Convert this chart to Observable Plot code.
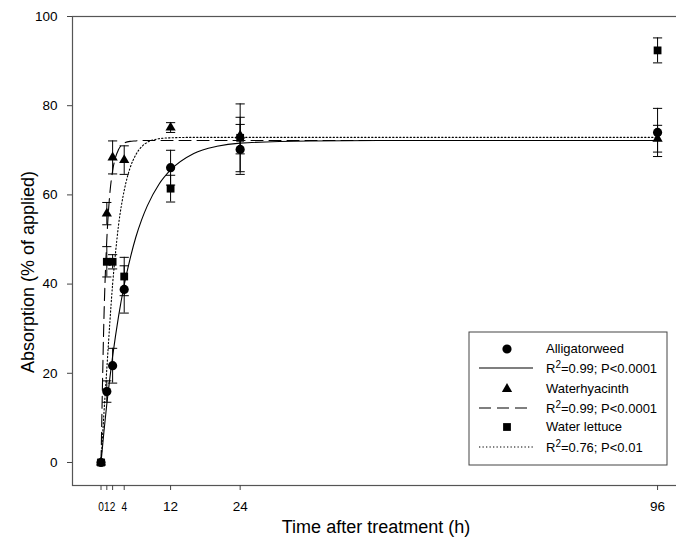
<!DOCTYPE html>
<html><head><meta charset="utf-8">
<script src="https://cdn.jsdelivr.net/npm/d3@7"></script>
<script src="https://cdn.jsdelivr.net/npm/@observablehq/plot@0.6"></script>
<style>
body{margin:0;background:#fff;}
#chart{position:relative;width:676px;height:539px;overflow:hidden;background:#fff;}
</style>
</head><body><div id="chart"></div>
<script>
// ---- data ----
const times = [0, 1, 2, 4, 12, 24, 96];
const xTicks = [0, 1, 2, 4, 12, 24, 96];
const yTicks = [0, 20, 40, 60, 80, 100];
const seriesNames = ["Alligatorweed", "Waterhyacinth", "Water lettuce"];
const fitLabels = ["=0.99; P<0.0001", "=0.99; P<0.0001", "=0.76; P<0.01"];

const alligatorMean = [0, 15.9, 21.7, 38.8, 66.1, 70.2, 74.0];
const alligatorErr  = [0, 2.4, 3.9, 5.3, 3.9, 5.6, 5.4];
const hyacinthMean  = [0, 55.8, 68.4, 67.8, 75.1, 73.3, 72.6];
const hyacinthErr   = [0, 2.5, 3.7, 3.2, 1.1, 4.1, 3.0];
const lettuceMean   = [0, 45.0, 45.0, 41.7, 61.4, 72.8, 92.4];
const lettuceErr    = [0, 3.4, 1.6, 4.3, 3.0, 7.6, 2.8];

// fitted curves
const curveTimes   = [0, 0.5, 1, 1.5, 2, 2.5, 3, 4, 5, 6, 7, 8, 10, 12, 16, 20, 24, 36, 48, 96];
const alligatorFit = [0, 6.9, 13.1, 18.7, 23.8, 28.4, 32.6, 39.8, 45.6, 50.5, 54.4, 57.6, 62.4, 65.6, 69.3, 70.9, 71.6, 72.1, 72.2, 72.2];
const hyacinthFit  = [0, 32.2, 50.0, 60.0, 65.4, 68.4, 70.1, 71.6, 72.0, 72.1, 72.2, 72.2, 72.2, 72.2, 72.2, 72.2, 72.2, 72.2, 72.2, 72.2];
const lettuceFit   = [0, 11, 21, 31, 40, 47, 53, 61, 66, 69, 70.8, 71.8, 72.6, 72.8, 72.9, 72.9, 72.9, 72.9, 72.9, 72.9];

// ---- build tables ----
const means = [alligatorMean, hyacinthMean, lettuceMean];
const errs = [alligatorErr, hyacinthErr, lettuceErr];
const fits = [alligatorFit, hyacinthFit, lettuceFit];
const symbols = ["circle", "triangle", "square"];
const radii = [4.6, 3.8, 4.4];
const dashes = [null, "12,6", "1.3,2.2"];

const pts = means.map((m, s) => times.map((t, i) => ({t, v: m[i], e: errs[s][i], s})));
const bars = pts.flat().filter(d => d.e > 0);
const caps = bars.flatMap(d => [{t: d.t, y: d.v - d.e}, {t: d.t, y: d.v + d.e}]);
const fitRows = fits.map(f => curveTimes.map((t, i) => ({t, v: f[i]})));

const capSymbol = {draw(ctx, size) { const w = Math.sqrt(size / Math.PI); ctx.moveTo(-w, 0); ctx.lineTo(w, 0); }};

const font = "'Liberation Sans', Arial, Helvetica, sans-serif";

const plot = Plot.plot({
  width: 676, height: 539,
  marginLeft: 72, marginRight: -6, marginTop: 16, marginBottom: 54,
  style: {fontFamily: font, fontSize: "13px", background: "white", color: "black", overflow: "hidden"},
  x: {domain: [-4.92, 100.3]},
  y: {domain: [-5.16, 100]},
  marks: [
    Plot.frame({stroke: "#555", strokeWidth: 1.2}),
    Plot.axisX({ticks: xTicks, tickSize: 5, tickPadding: 11, label: null, stroke: "#444", tickFormat: d => String(d), fontSize: 13.5}),
    Plot.axisY({ticks: yTicks, tickSize: 5, tickPadding: 10, label: null, stroke: "#444", tickFormat: d => String(d), fontSize: 13.5}),
    ...fitRows.map((rows, s) => Plot.line(rows, {x: "t", y: "v", curve: "monotone-x", stroke: "black", strokeWidth: 1.1, strokeDasharray: dashes[s]})),
    Plot.ruleX(bars, {x: "t", y1: d => d.v - d.e, y2: d => d.v + d.e, stroke: "black", strokeWidth: 1}),
    Plot.dot(caps, {x: "t", y: "y", symbol: capSymbol, r: 4.6, stroke: "black", fill: "none", strokeWidth: 1}),
    ...pts.map((rows, s) => Plot.dot(rows, {x: "t", y: "v", symbol: symbols[s], r: radii[s], fill: "black", stroke: "none"}))
  ]
});

document.getElementById("chart").appendChild(plot);

const svg = d3.select(plot);
// narrow the tightly packed single-digit x tick labels (0,1,2,4) so they sit side by side as in the reference
svg.selectAll('g[aria-label="x-axis tick label"] text').each(function() {
  const s = this.textContent;
  if (s.length === 1) d3.select(this).attr("textLength", 5.6).attr("lengthAdjust", "spacingAndGlyphs");
});

// ---- axis titles and legend ----
svg.append("text")
  .attr("transform", "translate(34,272) rotate(-90)")
  .attr("text-anchor", "middle")
  .style("font-family", font).style("font-size", "18px").attr("fill", "black")
  .text("Absorption (% of applied)");
svg.append("text")
  .attr("x", 376).attr("y", 533)
  .attr("text-anchor", "middle")
  .style("font-family", font).style("font-size", "18px").attr("fill", "black")
  .text("Time after treatment (h)");

const lg = svg.append("g").style("font-family", font).style("font-size", "13px").attr("text-anchor", "start");
lg.append("rect").attr("x", 469).attr("y", 332).attr("width", 198).attr("height", 133)
  .attr("fill", "white").attr("stroke", "#444").attr("stroke-width", 1);
const markerY = [349, 389, 427];
const lineY = [368, 408, 447];
seriesNames.forEach((name, s) => {
  const sym = d3.symbol(s === 0 ? d3.symbolCircle : s === 1 ? d3.symbolTriangle : d3.symbolSquare, Math.PI * radii[s] * radii[s]);
  lg.append("path").attr("d", sym()).attr("transform", `translate(507,${markerY[s]})`).attr("fill", "black");
  lg.append("line").attr("x1", 479).attr("x2", 533).attr("y1", lineY[s]).attr("y2", lineY[s])
    .attr("stroke", "black").attr("stroke-width", 1.1).attr("stroke-dasharray", dashes[s]);
  lg.append("text").attr("x", 546).attr("y", markerY[s] + 4).attr("text-anchor", "start").attr("fill", "black").text(name);
  const t = lg.append("text").attr("x", 546).attr("y", lineY[s] + 5).attr("text-anchor", "start").attr("fill", "black");
  t.append("tspan").text("R");
  t.append("tspan").attr("dy", -5).style("font-size", "10px").text("2");
  t.append("tspan").attr("dy", 5).text(fitLabels[s]);
});
</script>
</body></html>
